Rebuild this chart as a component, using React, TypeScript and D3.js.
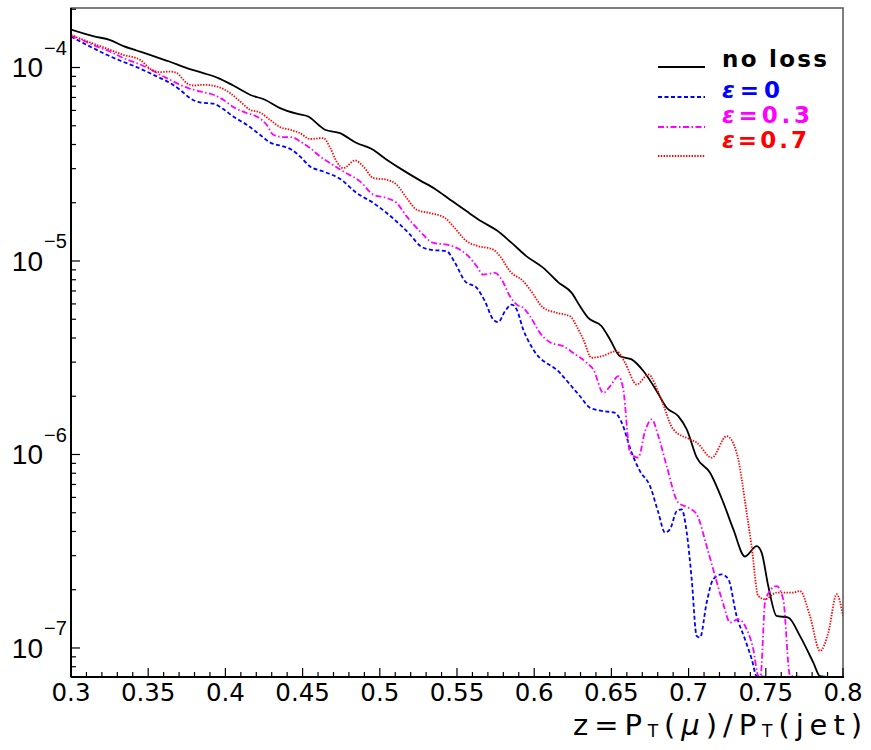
import React from "react";
import * as d3 from "d3";

// ---- data ----
const zNoLoss = [0.300,0.3155,0.325,0.334,0.3425,0.353,0.3637,0.375,0.3857,0.3954,0.4051,0.4159,0.4256,0.4354,0.4462,0.4537,0.4602,0.4645,0.4742,0.485,0.4948,0.5045,0.5152,0.526,0.5358,0.5455,0.5563,0.566,0.5757,0.5854,0.5951,0.6059,0.6156,0.6243,0.6297,0.635,0.6437,0.6491,0.6556,0.6631,0.6707,0.6793,0.6858,0.6933,0.6988,0.7053,0.7139,0.7225,0.729,0.7365,0.7441,0.7473,0.7516,0.757,0.7646,0.7721,0.7808,0.7851,0.79,0.80];
const vNoLoss = [1.57e-4,1.445e-4,1.39e-4,1.29e-4,1.224e-4,1.149e-4,1.074e-4,0.993e-4,0.936e-4,0.882e-4,0.807e-4,0.723e-4,0.681e-4,0.617e-4,0.577e-4,0.558e-4,0.506e-4,0.477e-4,0.458e-4,0.407e-4,0.379e-4,0.334e-4,0.294e-4,0.261e-4,0.2356e-4,0.2075e-4,0.1805e-4,0.160e-4,0.144e-4,0.124e-4,1.057e-5,9.21e-6,7.76e-6,6.84e-6,5.83e-6,5.08e-6,4.60e-6,3.93e-6,3.22e-6,3.10e-6,2.70e-6,2.13e-6,1.745e-6,1.578e-6,1.348e-6,9.63e-7,8.05e-7,5.64e-7,4.10e-7,2.97e-7,3.36e-7,3.11e-7,2.09e-7,1.464e-7,1.437e-7,1.155e-7,8.4e-8,7.15e-8,5.0e-8,4.0e-8];

const zEps0 = [0.300,0.308,0.3166,0.3231,0.3317,0.3425,0.3533,0.3641,0.3706,0.377,0.3835,0.3922,0.3986,0.4051,0.4138,0.4224,0.4289,0.4375,0.4429,0.4483,0.4548,0.4634,0.4742,0.485,0.4958,0.5045,0.5131,0.5196,0.526,0.5325,0.5433,0.5487,0.5552,0.5628,0.5681,0.5735,0.5767,0.5811,0.5854,0.5887,0.5929,0.5994,0.6167,0.6232,0.6297,0.6361,0.6448,0.6523,0.6567,0.6631,0.6685,0.675,0.6804,0.6847,0.6879,0.6923,0.6955,0.6988,0.702,0.7052,0.7074,0.7117,0.716,0.7214,0.7257,0.7311,0.7365,0.7409,0.7441,0.755,0.77,0.785,0.80];
const vEps0 = [1.445e-4,1.336e-4,1.234e-4,1.163e-4,1.087e-4,1.005e-4,0.917e-4,0.831e-4,0.767e-4,0.695e-4,0.660e-4,0.650e-4,0.610e-4,0.558e-4,0.506e-4,0.449e-4,0.410e-4,0.391e-4,0.376e-4,0.347e-4,0.308e-4,0.290e-4,0.266e-4,0.2247e-4,0.1995e-4,0.177e-4,0.154e-4,0.137e-4,0.120e-4,1.145e-5,1.122e-5,9.78e-6,7.86e-6,7.26e-6,6.19e-6,4.98e-6,4.83e-6,5.50e-6,5.95e-6,5.61e-6,4.42e-6,3.49e-6,2.64e-6,2.30e-6,2.00e-6,1.745e-6,1.675e-6,1.643e-6,1.46e-6,1.022e-6,8.21e-7,6.87e-7,5.01e-7,3.95e-7,4.10e-7,5.10e-7,5.21e-7,3.95e-7,2.27e-7,1.155e-7,1.133e-7,1.717e-7,2.27e-7,2.40e-7,2.27e-7,1.464e-7,1.11e-7,8.75e-8,7.15e-8,4.0e-8,5.0e-8,6.0e-8,4.0e-8];

const zEps03 = [0.300,0.308,0.3166,0.3253,0.3339,0.3425,0.3512,0.3576,0.3641,0.3706,0.376,0.3835,0.3922,0.3986,0.4051,0.4138,0.4203,0.4267,0.431,0.4375,0.4429,0.4483,0.4548,0.4613,0.4677,0.4764,0.4872,0.4958,0.5045,0.5109,0.5174,0.526,0.5347,0.5433,0.5498,0.5563,0.5628,0.567,0.5746,0.5789,0.5843,0.5887,0.5929,0.5973,0.6037,0.6102,0.6188,0.6253,0.634,0.6383,0.6448,0.6491,0.6545,0.6577,0.6621,0.6674,0.6718,0.6761,0.6804,0.6858,0.6933,0.6998,0.7052,0.7117,0.7171,0.7225,0.7268,0.7322,0.7376,0.7419,0.7451,0.7465,0.7497,0.757,0.7613,0.7657,0.775,0.80];
const vEps03 = [1.458e-4,1.379e-4,1.284e-4,1.209e-4,1.118e-4,1.054e-4,0.981e-4,0.917e-4,0.864e-4,0.814e-4,0.783e-4,0.752e-4,0.723e-4,0.681e-4,0.625e-4,0.5816e-4,0.558e-4,0.506e-4,0.449e-4,0.437e-4,0.437e-4,0.415e-4,0.384e-4,0.347e-4,0.321e-4,0.290e-4,0.258e-4,0.2202e-4,0.2117e-4,0.1995e-4,0.170e-4,0.1423e-4,0.124e-4,0.1215e-4,1.169e-5,1.079e-5,9.39e-6,8.51e-6,8.68e-6,8.02e-6,6.57e-6,5.95e-6,5.73e-6,5.18e-6,4.25e-6,3.80e-6,3.63e-6,3.35e-6,2.98e-6,2.75e-6,2.08e-6,2.25e-6,2.54e-6,2.17e-6,1.022e-6,9.63e-7,1.32e-6,1.518e-6,1.245e-6,8.71e-7,5.64e-7,5.31e-7,4.91e-7,3.36e-7,2.36e-7,1.683e-7,1.354e-7,1.408e-7,1.25e-7,9.86e-8,7.18e-8,5.0e-8,1.78e-7,2.09e-7,1.78e-7,7.2e-8,5.0e-8,5.0e-8];

const zEps07 = [0.300,0.308,0.3166,0.3253,0.3339,0.3447,0.3523,0.3576,0.3641,0.3685,0.3749,0.3792,0.3857,0.3944,0.403,0.4095,0.4159,0.4224,0.4289,0.4354,0.4418,0.4483,0.4548,0.4634,0.4677,0.4721,0.4764,0.4839,0.4893,0.4958,0.5045,0.5109,0.5174,0.5239,0.5325,0.5422,0.5476,0.5563,0.5628,0.5735,0.5779,0.5843,0.5929,0.5973,0.6059,0.6146,0.6232,0.6275,0.6318,0.6372,0.6437,0.6534,0.6588,0.6664,0.6739,0.6815,0.6901,0.7009,0.7053,0.715,0.7247,0.7311,0.7376,0.7408,0.7451,0.7495,0.757,0.7678,0.7721,0.7786,0.7851,0.7905,0.7959,0.80];
const vEps07 = [1.475e-4,1.39e-4,1.31e-4,1.234e-4,1.163e-4,1.096e-4,0.973e-4,0.947e-4,0.953e-4,0.936e-4,0.831e-4,0.807e-4,0.814e-4,0.798e-4,0.738e-4,0.668e-4,0.605e-4,0.5856e-4,0.537e-4,0.492e-4,0.477e-4,0.458e-4,0.427e-4,0.432e-4,0.387e-4,0.326e-4,0.302e-4,0.331e-4,0.308e-4,0.2685e-4,0.263e-4,0.248e-4,0.2117e-4,0.184e-4,0.177e-4,0.167e-4,0.151e-4,0.1264e-4,0.120e-4,1.145e-5,1.057e-5,8.85e-6,7.86e-6,7.12e-6,5.73e-6,5.40e-6,5.18e-6,4.60e-6,3.93e-6,3.16e-6,3.22e-6,3.42e-6,2.98e-6,2.30e-6,2.59e-6,2.00e-6,1.348e-6,1.197e-6,1.151e-6,9.63e-7,1.245e-6,1.022e-6,5.01e-7,3.36e-7,1.858e-7,1.786e-7,1.934e-7,1.934e-7,1.97e-7,1.464e-7,9.66e-8,1.2e-7,1.896e-7,1.464e-7];

const seriesNames = ["no loss", "=0", "=0.3", "=0.7"];
const seriesGreek = ["", "\u03b5", "\u03b5", "\u03b5"];
const xTickValues = [0.3, 0.35, 0.4, 0.45, 0.5, 0.55, 0.6, 0.65, 0.7, 0.75, 0.8];
const xTickLabels = ["0.3", "0.35", "0.4", "0.45", "0.5", "0.55", "0.6", "0.65", "0.7", "0.75", "0.8"];
const yDecades = [-7, -6, -5, -4];
const xDomain = [0.3, 0.8];
const yDomain = [7.08e-8, 2.03e-4];

// ---- layout / style ----
const L = 71, R = 843, T = 8, B = 677;

const styles = [
  { color: "#000000", dash: null, width: 1.8 },
  { color: "#0000ff", dash: "4 2.5", width: 1.8 },
  { color: "#ff00ff", dash: "6 2.5 1.5 2.5", width: 1.8 },
  { color: "#ff0000", dash: "1.4 1.4", width: 1.8 },
];

export default function App() {
  const x = d3.scaleLinear().domain(xDomain).range([L, R]);
  const y = d3.scaleLog().domain(yDomain).range([B, T]);
  const ymin = yDomain[0];

  const data = [
    d3.zip(zNoLoss, vNoLoss),
    d3.zip(zEps0, vEps0),
    d3.zip(zEps03, vEps03),
    d3.zip(zEps07, vEps07),
  ];

  const line = d3
    .line<[number, number]>()
    .x((d) => x(d[0]))
    .y((d) => y(Math.max(d[1], ymin)))
    .curve(d3.curveMonotoneX);

  const xMinor = d3.range(30, 81).map((i) => i / 100);

  const yMinor: number[] = [];
  for (let e = -8; e <= -4; e++) {
    for (let m = 2; m <= 9; m++) {
      const v = m * Math.pow(10, e);
      if (v > yDomain[0] && v < yDomain[1]) yMinor.push(v);
    }
  }

  const legendLineY = [67, 97, 127, 156];
  const legendTextY = [67, 98, 123, 148];
  const legendTextLen = [105, 58, 88, 85];

  return (
    <svg
      width={871}
      height={750}
      style={{ position: "absolute", left: 0, top: 0, background: "#fff" }}
    >
      <defs>
        <clipPath id="plotclip">
          <rect x={L} y={T} width={R - L} height={B - T + 1} />
        </clipPath>
      </defs>
      <rect x={0} y={0} width={871} height={750} fill="#fff" />

      {/* curves */}
      <g clipPath="url(#plotclip)">
        {data.map((d, i) => (
          <path
            key={i}
            d={line(d as [number, number][]) || ""}
            fill="none"
            stroke={styles[i].color}
            strokeWidth={styles[i].width}
            strokeDasharray={styles[i].dash || undefined}
          />
        ))}
      </g>

      {/* frame */}
      <rect x={L} y={T} width={R - L} height={B - T} fill="none" stroke="#555" strokeWidth={1.5} />
      <line x1={L} x2={L} y1={T} y2={B} stroke="#000" strokeWidth={2} />
      <line x1={L} x2={R + 1} y1={B} y2={B} stroke="#000" strokeWidth={2} />

      {/* x ticks */}
      {xMinor.map((t, i) => {
        const major = i % 5 === 0;
        return (
          <line
            key={"xm" + i}
            x1={x(t)}
            x2={x(t)}
            y1={B}
            y2={B - (major ? 9 : 5)}
            stroke="#000"
            strokeWidth={1.2}
          />
        );
      })}
      {xTickValues.map((t, i) => (
        <text
          key={"xl" + i}
          x={x(t)}
          y={701}
          textAnchor="middle"
          fontFamily="DejaVu Sans"
          fontSize={24.5}
          fill="#000"
        >
          {xTickLabels[i]}
        </text>
      ))}

      {/* y ticks */}
      {yMinor.map((v, i) => (
        <line key={"ym" + i} x1={L} x2={L + 5} y1={y(v)} y2={y(v)} stroke="#000" strokeWidth={1.2} />
      ))}
      {yDecades.map((e) => {
        const yy = y(Math.pow(10, e));
        return (
          <g key={"yd" + e}>
            <line x1={L} x2={L + 9} y1={yy} y2={yy} stroke="#000" strokeWidth={1.2} />
            <text
              x={43}
              y={yy + 10}
              textAnchor="end"
              fontFamily="Liberation Sans"
              fontSize={28}
              fill="#000"
            >
              10
            </text>
            <text
              x={44}
              y={yy - 12.5}
              fontFamily="Liberation Sans"
              fontSize={20}
              fill="#000"
            >
              {"\u2212" + Math.abs(e)}
            </text>
          </g>
        );
      })}

      {/* axis title */}
      <text
        x={573}
        y={735}
        fontFamily="DejaVu Sans"
        fontSize={29}
        fill="#000"
        textLength={289}
        lengthAdjust="spacing"
      >
        <tspan>z=P</tspan>
        <tspan fontSize={17} dy={2}>T</tspan>
        <tspan dy={-2}>(</tspan>
        <tspan fontStyle="italic">μ</tspan>
        <tspan>)/P</tspan>
        <tspan fontSize={17} dy={2}>T</tspan>
        <tspan dy={-2}>(jet)</tspan>
      </text>

      {/* legend */}
      {seriesNames.map((name, i) => (
        <g key={"lg" + i}>
          <line
            x1={658}
            x2={705}
            y1={legendLineY[i]}
            y2={legendLineY[i]}
            stroke={styles[i].color}
            strokeWidth={styles[i].width}
            strokeDasharray={styles[i].dash || undefined}
          />
          <text
            x={722}
            y={legendTextY[i]}
            fontFamily="DejaVu Sans"
            fontWeight="bold"
            fontSize={23}
            fill={styles[i].color}
            textLength={legendTextLen[i]}
            lengthAdjust="spacing"
          >
            {seriesGreek[i] && <tspan fontStyle="italic">{seriesGreek[i]}</tspan>}
            <tspan>{name}</tspan>
          </text>
        </g>
      ))}
    </svg>
  );
}
